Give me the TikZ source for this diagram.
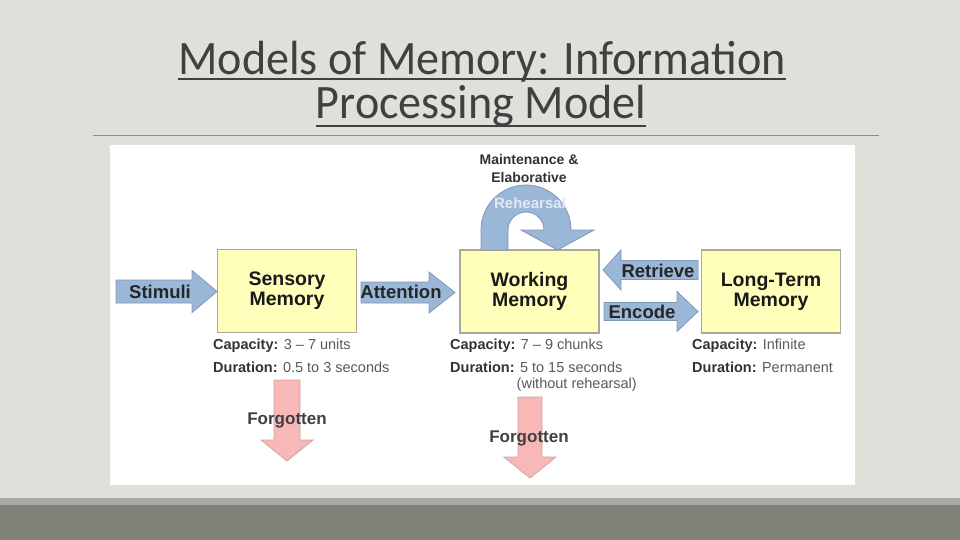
\documentclass[tikz,border=0pt]{standalone}
\usepackage{fontspec}
\setmainfont{Liberation Sans}
\newfontfamily\titlefont{Carlito}

\definecolor{slidebg}{HTML}{E0E0DA}
\definecolor{bandlight}{HTML}{A9AAA3}
\definecolor{banddark}{HTML}{7F8078}
\definecolor{rulegray}{HTML}{8C8C86}
\definecolor{titlegray}{HTML}{404040}
\definecolor{boxyellow}{HTML}{FFFFBB}
\definecolor{boxedge}{HTML}{A9A994}
\definecolor{arrowblue}{HTML}{9BB7D8}
\definecolor{arrowedge}{HTML}{8197B4}
\definecolor{forgetpink}{HTML}{F8B8B8}
\definecolor{forgetedge}{HTML}{C9A6A6}
\definecolor{notegray}{HTML}{5A5A5A}
\definecolor{fadedtext}{HTML}{E2E8EF}

% block arrows: style, x tail, x head base, x tip, y mid, half shaft, half head
\newcommand{\blockarrowh}[7]{\draw[#1] (#2,{#5-#6}) -- (#3,{#5-#6}) -- (#3,{#5-#7}) -- (#4,#5) -- (#3,{#5+#7}) -- (#3,{#5+#6}) -- (#2,{#5+#6}) -- cycle;}
% style, x mid, y tail, y head base, y tip, half shaft, half head
\newcommand{\blockarrowv}[7]{\draw[#1] ({#2-#6},#3) -- ({#2-#6},#4) -- ({#2-#7},#4) -- (#2,#5) -- ({#2+#7},#4) -- ({#2+#6},#4) -- ({#2+#6},#3) -- cycle;}

\begin{document}
\begin{tikzpicture}[x=1pt,y=-1pt]
 \tikzset{
  memory/.style={draw=boxedge, fill=boxyellow, line width=1.2pt, minimum width=139pt, minimum height=83pt, align=center, inner sep=0pt, font=\bfseries\fontsize{19.5}{20}\selectfont, text=black!90},
  flow/.style={draw=arrowedge, fill=arrowblue, line width=0.8pt},
  forget/.style={draw=forgetedge, fill=forgetpink, line width=0.8pt},
  arrowtext/.style={inner sep=0pt, font=\bfseries\fontsize{18.5}{19}\selectfont, text=black!85},
  note/.style={anchor=west, inner sep=0pt, font=\fontsize{14.5}{14.5}\selectfont, text=notegray},
  titletext/.style={anchor=base, inner sep=0pt, xscale=0.96, font=\titlefont\fontsize{48}{48}\selectfont, text=titlegray}
 }
 \useasboundingbox (0,0) rectangle (960,540);
 % slide background
 \fill[slidebg] (0,0) rectangle (960,540);
 \fill[bandlight] (0,498) rectangle (960,505);
 \fill[banddark] (0,505) rectangle (960,540);
 \draw[rulegray, line width=1pt] (93,136) -- (879,136);
 % title
 \node[titletext] (T1) at (482,75) {Models of Memory: Information};
 \node[titletext] (T2) at (481,119) {Processing Model};
 \draw[titlegray, line width=2.5pt] ([yshift=-4pt]T1.base west) -- ([yshift=-4pt]T1.base east);
 \draw[titlegray, line width=2.5pt] ([yshift=-7pt]T2.base west) -- ([yshift=-7pt]T2.base east);
 % figure
 \fill[white] (110,145) rectangle (855,485);
 \node[memory] (SM) at (287,291) {Sensory\\Memory};
 \node[memory] (WM) at (529.5,291.5) {Working\\Memory};
 \node[memory] (LTM) at (771,291.5) {Long-Term\\Memory};
 \blockarrowh{flow}{116}{192}{217}{291.5}{11.5}{21}
 \blockarrowh{flow}{361}{429}{455}{292.5}{10.5}{20.5}
 \blockarrowh{flow}{698}{621}{603}{270}{9.5}{20}
 \blockarrowh{flow}{604}{677}{698}{311.5}{9}{20}
 \node[arrowtext] (stim) at (160,292) {Stimuli};
 \node[arrowtext] (att) at (401,292) {Attention};
 \node[arrowtext] (ret) at (658,271) {Retrieve};
 \node[arrowtext] (enc) at (642,312) {Encode};
 % rehearsal loop
 \draw[flow] (481,250) -- (481,230) arc[start angle=180, end angle=360, radius=45] -- (594,230) -- (557.5,250) -- (521,230) -- (544,230) arc[start angle=0, end angle=-180, radius=18] -- (508,250) -- cycle;
 \node[inner sep=0pt, font=\bfseries\fontsize{15}{15}\selectfont, text=fadedtext] (reh) at (530,203) {Rehearsal};
 \node[inner sep=0pt, align=center, font=\bfseries\fontsize{14}{18}\selectfont, text=black!80] (maint) at (529,168) {Maintenance \&\\Elaborative};
 % capacity and duration
 \node[note] (sc) at (213,346) {\textbf{\color{black!80}Capacity:} 3 -- 7 units};
 \node[note] (sd) at (213,367) {\textbf{\color{black!80}Duration:} 0.5 to 3 seconds};
 \node[note] (wc) at (450,346) {\textbf{\color{black!80}Capacity:} 7 -- 9 chunks};
 \node[note] (wd) at (450,367) {\textbf{\color{black!80}Duration:} 5 to 15 seconds};
 \node[note, anchor=east] (wr) at (637,385) {(without rehearsal)};
 \node[note] (lc) at (692,346) {\textbf{\color{black!80}Capacity:} Infinite};
 \node[note] (ld) at (692,367) {\textbf{\color{black!80}Duration:} Permanent};
 % forgetting
 \blockarrowv{forget}{287}{380}{440}{461}{13}{26}
 \blockarrowv{forget}{530}{397}{457}{478}{12}{26}
 \node[arrowtext, font=\bfseries\fontsize{17}{17}\selectfont, text=black!75] (f1) at (287,420) {Forgotten};
 \node[arrowtext, font=\bfseries\fontsize{17}{17}\selectfont, text=black!75] (f2) at (529,438) {Forgotten};
\end{tikzpicture}
\end{document}
